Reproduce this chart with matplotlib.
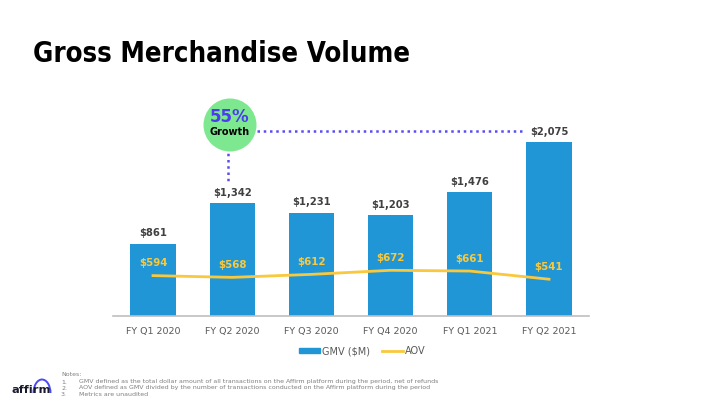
import numpy as np
import matplotlib.pyplot as plt
from matplotlib.patches import Circle, Arc
from matplotlib.lines import Line2D
from matplotlib.patches import Patch

quarters = ['FY Q1 2020', 'FY Q2 2020', 'FY Q3 2020', 'FY Q4 2020', 'FY Q1 2021', 'FY Q2 2021']
gmv = [861, 1342, 1231, 1203, 1476, 2075]
aov = [594, 568, 612, 672, 661, 541]
notes = [
    'GMV defined as the total dollar amount of all transactions on the Affirm platform during the period, net of refunds',
    'AOV defined as GMV divided by the number of transactions conducted on the Affirm platform during the period',
    'Metrics are unaudited',
]

bar_col = '#2196d6'
line_col = '#f9c83c'
lbl_col = '#404040'
tick_col = '#595959'
dot_col = '#5a4cf5'

fig = plt.figure(figsize=(7.2, 4.05), dpi=100)
fig.text(33/720, 1 - 62/405, 'Gross Merchandise Volume', fontsize=19.8, fontweight='bold',
         fontstretch='condensed', color='black', va='baseline', ha='left')

ax = fig.add_axes([113.4/720, 1 - 316/405, 475.2/720, 216/405])
x = np.arange(len(quarters))
ax.bar(x, gmv, width=0.57, color=bar_col, zorder=2)
ax.set_xlim(-0.5, 5.5)
ax.set_ylim(0, 2575)
ax.set_yticks([])
for s in ['top', 'right', 'left']:
    ax.spines[s].set_visible(False)
ax.spines['bottom'].set_color('#bfbfbf')
ax.spines['bottom'].set_linewidth(1.2)
ax.set_xticks(x)
ax.set_xticklabels(quarters, fontsize=6.8, color=tick_col)
ax.tick_params(axis='x', length=0, pad=8)
for xi, v in zip(x, gmv):
    ax.annotate(f'${v:,}', (xi, v), xytext=(0, 7.5), textcoords='offset points',
                ha='center', va='center', fontsize=7.2, fontweight='bold', color=lbl_col)

ax2 = ax.twinx()
ax2.set_ylim(0, 3176)
ax2.axis('off')
ax2.plot(x, aov, color=line_col, lw=2, zorder=3)
for xi, v in zip(x, aov):
    ax2.annotate(f'${v}', (xi, v), xytext=(0, 9), textcoords='offset points',
                 ha='center', va='center', fontsize=7.4, fontweight='bold', color=line_col)

# growth callout
ax.plot([1.31, 4.67], [2205, 2205], ls=(0, (1, 1.5)), color=dot_col, lw=1.8, clip_on=False)
ax.plot([0.95, 0.95], [2010, 1575], ls=(0, (1, 1.5)), color=dot_col, lw=1.8, clip_on=False)
fig.add_artist(Circle((2.30, 2.80), 0.265, transform=fig.dpi_scale_trans,
                      facecolor='#7de88f', edgecolor='none'))
fig.text(230/720, 1 - 117/405, '55%', ha='center', va='center', fontsize=12,
         fontweight='bold', color='#4b3cf0')
fig.text(230/720, 1 - 132/405, 'Growth', ha='center', va='center', fontsize=7,
         fontweight='bold', color='black')

# legend
handles = [Patch(color=bar_col, label='GMV ($M)'), Line2D([], [], color=line_col, lw=2, label='AOV')]
fig.legend(handles=handles, loc='center', bbox_to_anchor=(362/720, 1 - 351/405), ncol=2,
           frameon=False, fontsize=7, labelcolor=tick_col, handlelength=2.2,
           handleheight=0.5, handletextpad=0.2, columnspacing=1.2)

# notes
fig.text(61/720, 1 - 375/405, 'Notes:', fontsize=4.5, color='#7f7f7f', va='center')
for i, n in enumerate(notes):
    yy = 1 - (382 + 6*i)/405
    fig.text(61/720, yy, f'{i+1}.', fontsize=4.5, color='#7f7f7f', va='center')
    fig.text(79/720, yy, n, fontsize=4.5, color='#7f7f7f', va='center')

# logo
fig.text(11/720, 1 - 393/405, 'affirm', fontsize=8.2, color='#1a1a2e', va='baseline',
         fontweight='semibold')
fig.add_artist(Arc((0.42, 0.12), 0.17, 0.27, theta1=0, theta2=180,
                   transform=fig.dpi_scale_trans, color='#4a4af4', lw=1.4))

fig.savefig('out.png', dpi=100)
